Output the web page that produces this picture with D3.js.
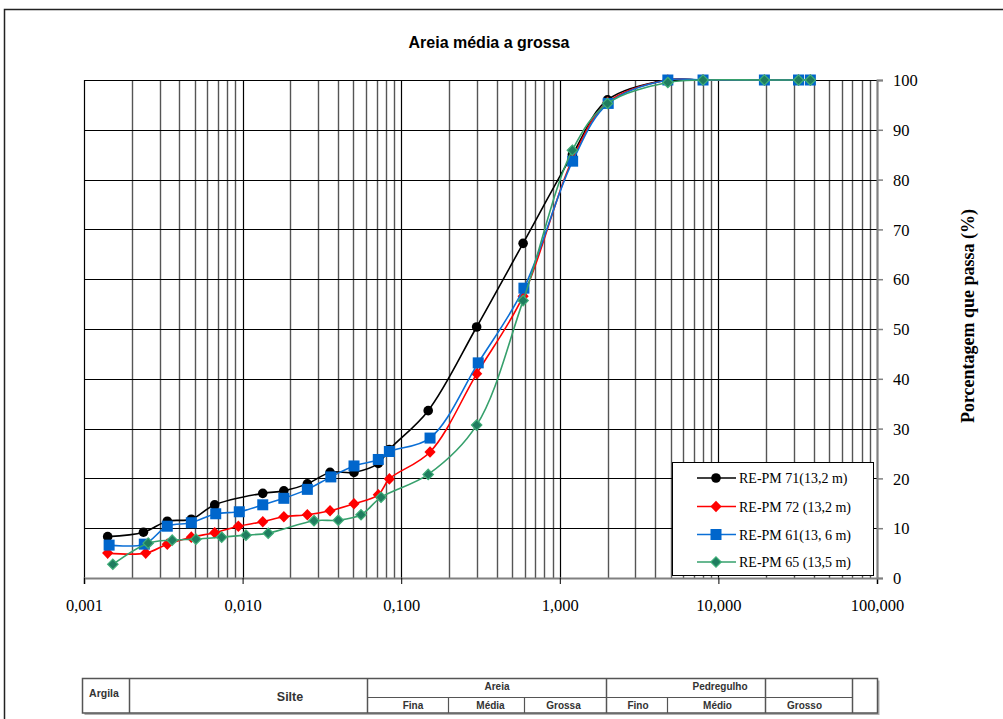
<!DOCTYPE html>
<html>
<head>
<meta charset="utf-8">
<script src="https://cdn.jsdelivr.net/npm/d3@7/dist/d3.min.js"></script>
<style>
  html, body { margin: 0; padding: 0; background: #fff; }
  svg { display: block; }
</style>
</head>
<body>
<svg id="chart" width="1003" height="719"></svg>
<script>
// Granulometric curves: grain diameter (mm) vs. percent passing
const title = "Areia média a grossa";
const yTitle = "Porcentagem que passa (%)";
const xTickValues = [0.001, 0.01, 0.1, 1, 10, 100];
const xTickLabels = ["0,001", "0,010", "0,100", "1,000", "10,000", "100,000"];
const yTickValues = [0, 10, 20, 30, 40, 50, 60, 70, 80, 90, 100];

const seriesNames = ["RE-PM 71(13,2 m)", "RE-PM 72 (13,2 m)", "RE-PM 61(13, 6 m)", "RE-PM 65 (13,5 m)"];

const diam71 = [0.00141, 0.00237, 0.00335, 0.00475, 0.00667, 0.0134, 0.0182, 0.0256, 0.0356, 0.0504, 0.0717, 0.0842, 0.148, 0.299, 0.587, 1.2, 2.0, 4.8, 8.0, 19.5, 32, 38];
const pass71 = [8.3, 9.2, 11.4, 11.8, 14.7, 17.0, 17.5, 18.9, 21.2, 21.2, 23.0, 25.8, 33.6, 50.4, 67.2, 85.0, 96.0, 100, 100, 100, 100, 100];

const diam72 = [0.00141, 0.00245, 0.00335, 0.00475, 0.00667, 0.0094, 0.0134, 0.0182, 0.0256, 0.0356, 0.0504, 0.0717, 0.0842, 0.152, 0.299, 0.587, 1.2, 2.0, 4.8, 8.0, 19.5, 32, 38];
const pass72 = [5.0, 5.0, 6.8, 8.2, 9.1, 10.4, 11.3, 12.3, 12.7, 13.5, 14.9, 16.7, 19.9, 25.3, 41.0, 56.6, 84.0, 95.5, 100, 100, 100, 100, 100];

const diam61 = [0.00144, 0.0024, 0.00335, 0.00475, 0.00677, 0.00953, 0.0134, 0.0182, 0.0256, 0.036, 0.0504, 0.0717, 0.0842, 0.152, 0.306, 0.594, 1.205, 2.02, 4.8, 8.0, 19.5, 32, 38];
const pass61 = [6.6, 6.8, 10.4, 11.1, 12.9, 13.3, 14.7, 16.0, 17.8, 20.3, 22.5, 23.8, 25.4, 28.1, 43.2, 58.2, 83.7, 95.3, 100, 100, 100, 100, 100];

const diam65 = [0.00152, 0.00254, 0.0036, 0.00508, 0.00738, 0.0105, 0.0145, 0.0282, 0.0401, 0.0558, 0.0746, 0.148, 0.299, 0.587, 1.2, 2.0, 4.8, 8.0, 19.5, 32, 38];
const pass65 = [2.75, 7.0, 7.6, 7.8, 8.2, 8.6, 9.0, 11.5, 11.6, 12.7, 16.2, 20.8, 30.7, 55.7, 85.9, 95.3, 99.5, 100, 100, 100, 100];

// Soil classification strip under the chart
const tableTop = ["Argila", "Silte", "Areia", "Pedregulho"];
const tableBottom = ["Fina", "Média", "Grossa", "Fino", "Médio", "Grosso"];

const serif = "'Liberation Serif', 'Times New Roman', serif";
const sans = "'Liberation Sans', Arial, sans-serif";

const svg = d3.select("#chart");

const plot = { left: 84, right: 877, top: 80, bottom: 578 };
const x = d3.scaleLog().domain([0.001, 100]).range([plot.left, plot.right]);
const y = d3.scaleLinear().domain([0, 100]).range([plot.bottom, plot.top]);

// outer frame
svg.append("rect")
  .attr("x", 4.5).attr("y", 9.5).attr("width", 1200).attr("height", 900)
  .attr("fill", "none").attr("stroke", "#222").attr("stroke-width", 1.5);

// title
svg.append("text")
  .attr("x", 489).attr("y", 48)
  .attr("text-anchor", "middle")
  .attr("font-family", sans).attr("font-weight", "bold").attr("font-size", 16)
  .text(title);

// vertical grid (log cycles)
const gridX = [];
for (let e = -3; e <= 1; e++) {
  for (let k = 1; k <= 9; k++) gridX.push(k * Math.pow(10, e));
}
gridX.push(100);
const isDecade = v => Math.abs(Math.log10(v) - Math.round(Math.log10(v))) < 1e-9;

svg.append("g").selectAll("line").data(gridX).join("line")
  .attr("x1", d => Math.round(x(d)) + 0.5).attr("x2", d => Math.round(x(d)) + 0.5)
  .attr("y1", plot.top).attr("y2", plot.bottom)
  .attr("stroke", d => isDecade(d) ? "#000" : "#555")
  .attr("stroke-width", d => isDecade(d) ? 1.2 : 1.4);

// horizontal grid
svg.append("g").selectAll("line").data(yTickValues).join("line")
  .attr("x1", plot.left).attr("x2", plot.right)
  .attr("y1", d => Math.round(y(d)) + 0.5).attr("y2", d => Math.round(y(d)) + 0.5)
  .attr("stroke", "#000").attr("stroke-width", 1);

// bottom axis
const xAxis = d3.axisBottom(x).tickValues(xTickValues).tickSize(6)
  .tickFormat((d, i) => xTickLabels[i]);
const gx = svg.append("g").attr("transform", `translate(0,${plot.bottom})`).call(xAxis);
gx.select(".domain").attr("stroke", "#808080").attr("stroke-width", 2);
gx.selectAll(".tick line").attr("stroke", "#000");
gx.selectAll(".tick text")
  .attr("font-family", serif).attr("font-size", 16.5).attr("fill", "#000")
  .attr("dy", 0).attr("y", 33);

// right axis
const yAxis = d3.axisRight(y).tickValues(yTickValues).tickSize(6);
const gy = svg.append("g").attr("transform", `translate(${plot.right},0)`).call(yAxis);
gy.select(".domain").attr("stroke", "#808080").attr("stroke-width", 2);
gy.selectAll(".tick line").attr("stroke", "#808080").attr("stroke-width", 1.5);
gy.selectAll(".tick text")
  .attr("font-family", serif).attr("font-size", 16.5).attr("fill", "#000")
  .attr("x", 16).attr("dy", "0.35em").attr("text-anchor", "start");

// right axis title
svg.append("text")
  .attr("transform", "translate(974,316) rotate(-90)")
  .attr("text-anchor", "middle")
  .attr("font-family", serif).attr("font-weight", "bold").attr("font-size", 18)
  .text(yTitle);

// marker shapes
const diamond = (w, h) => `M0,${-h}L${w},0L0,${h}L${-w},0Z`;
const series = [
  { name: seriesNames[0], d: diam71, v: pass71, line: "#000000", marker: "circle", fill: "#000000", stroke: "none" },
  { name: seriesNames[1], d: diam72, v: pass72, line: "#ff0000", marker: "diamondRed", fill: "#ff0000", stroke: "none" },
  { name: seriesNames[2], d: diam61, v: pass61, line: "#0b6fd6", marker: "square", fill: "#0066cc", stroke: "none" },
  { name: seriesNames[3], d: diam65, v: pass65, line: "#36a06c", marker: "diamondGreen", fill: "#1f7d5f", stroke: "#3fae78" }
];

function drawMarker(g, s, cx, cy) {
  if (s.marker === "circle") {
    g.append("circle").attr("cx", cx).attr("cy", cy).attr("r", 4.8).attr("fill", s.fill);
  } else if (s.marker === "square") {
    g.append("rect").attr("x", cx - 5.5).attr("y", cy - 5.5).attr("width", 11).attr("height", 11).attr("fill", s.fill);
  } else if (s.marker === "diamondRed") {
    g.append("path").attr("d", diamond(5.6, 5.8)).attr("transform", `translate(${cx},${cy})`).attr("fill", s.fill);
  } else {
    g.append("path").attr("d", diamond(5.2, 5.2)).attr("transform", `translate(${cx},${cy})`)
      .attr("fill", s.fill).attr("stroke", s.stroke).attr("stroke-width", 1.2);
  }
}

const lineGen = d3.line()
  .x(p => x(p[0])).y(p => y(p[1]))
  .curve(d3.curveCatmullRom.alpha(0.5));

series.forEach(s => {
  const pts = s.d.map((d, i) => [d, s.v[i]]);
  const g = svg.append("g");
  g.append("path").datum(pts).attr("d", lineGen)
    .attr("fill", "none").attr("stroke", s.line).attr("stroke-width", 1.6);
  pts.forEach(p => drawMarker(g, s, x(p[0]), y(p[1])));
});

// legend
const lg = svg.append("g");
lg.append("rect").attr("x", 672.5).attr("y", 462.5).attr("width", 201).attr("height", 113)
  .attr("fill", "#fff").attr("stroke", "#000").attr("stroke-width", 1);
const legendY = [478, 506.5, 534.5, 562];
series.forEach((s, i) => {
  lg.append("line").attr("x1", 697).attr("x2", 736).attr("y1", legendY[i]).attr("y2", legendY[i])
    .attr("stroke", s.line).attr("stroke-width", 1.6);
  drawMarker(lg, s, 716, legendY[i]);
  lg.append("text").attr("x", 739).attr("y", legendY[i] + 5)
    .attr("font-family", serif).attr("font-size", 14).attr("fill", "#000")
    .text(s.name);
});

// classification table
const tb = svg.append("g");
const tX0 = 82.5, tX1 = 877.5, tY0 = 678.5, tYm = 697.5, tY1 = 713;
const lineCol = "#555";
// drop shadow
tb.append("rect").attr("x", tX0 + 2).attr("y", tY0 + 2).attr("width", tX1 - tX0).attr("height", tY1 - tY0)
  .attr("fill", "#b0b0b0");
tb.append("rect").attr("x", tX0).attr("y", tY0).attr("width", tX1 - tX0).attr("height", tY1 - tY0)
  .attr("fill", "#fff").attr("stroke", lineCol).attr("stroke-width", 1.5);
const fullCols = [129.5, 367.5, 606.5, 765.5, 852.5];
fullCols.forEach(cx => tb.append("line").attr("x1", cx).attr("x2", cx).attr("y1", tY0).attr("y2", tY1)
  .attr("stroke", lineCol).attr("stroke-width", 1.5));
tb.append("line").attr("x1", 367.5).attr("x2", 852.5).attr("y1", tYm).attr("y2", tYm)
  .attr("stroke", lineCol).attr("stroke-width", 1.2);
[448.5, 524.5, 667.5].forEach(cx => tb.append("line").attr("x1", cx).attr("x2", cx).attr("y1", tYm).attr("y2", tY1)
  .attr("stroke", lineCol).attr("stroke-width", 1.2));

const tText = (tx, ty, str, size) => tb.append("text").attr("x", tx).attr("y", ty)
  .attr("text-anchor", "middle").attr("font-family", sans).attr("font-weight", "bold")
  .attr("font-size", size).attr("fill", "#333").text(str);
tText(104, 697, tableTop[0], 10.5);
tText(290, 701, tableTop[1], 12.5);
tText(497, 690, tableTop[2], 10);
tText(720, 690, tableTop[3], 10);
const bottomX = [413, 490.5, 563.5, 638, 717.5, 804.5];
tableBottom.forEach((t, i) => tText(bottomX[i], 709, t, 10));
</script>
</body>
</html>
